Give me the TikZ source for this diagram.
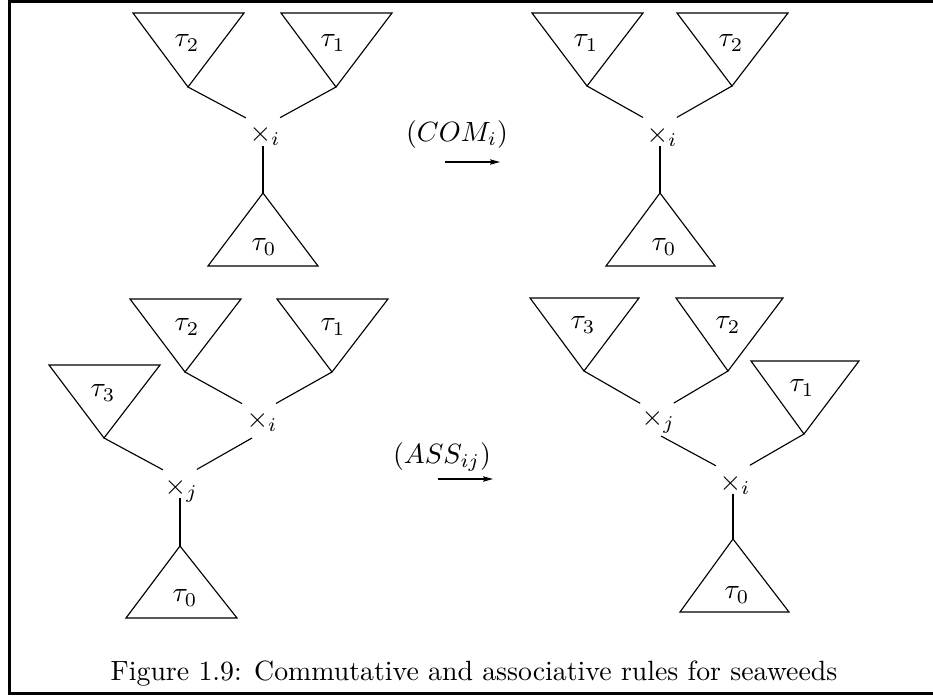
\RequirePackage{fix-cm}
\documentclass[tikz,border=0pt]{standalone}
\usetikzlibrary{arrows.meta}
\begin{document}
\begin{tikzpicture}[x=0.37pt,y=-0.37pt,
  font=\fontsize{10.3pt}{12.4pt}\selectfont,
  br/.style={line width=0.42pt},
  tri/.style={line width=0.42pt, line join=miter},
  junc/.style={circle, minimum size=14pt, inner sep=0pt},
  lab/.style={inner sep=0pt},
  xlab/.style={inner sep=0pt, anchor=base west},
  rulearrow/.style={-{Stealth[length=3.7pt,width=2pt,inset=0.6pt]}, line width=0.42pt},
  framerule/.style={line width=1.1pt}]
\useasboundingbox (0,0) rectangle (933,695);
\draw[framerule] (933,1.5) -- (9.5,1.5) -- (9.5,693.5) -- (933,693.5);

% ---------- top left ----------
\coordinate (a2) at (188,87);
\coordinate (a1) at (336,87);
\coordinate (a0) at (263,193);
\node[junc] (ax) at (263,127) {};
\draw[tri] (a2) -- ++(-55,-74) -- ++(111,0) -- cycle;
\draw[tri] (a1) -- ++(-55,-74) -- ++(111,0) -- cycle;
\draw[tri] (a0) -- ++(-55,73) -- ++(110,0) -- cycle;
\node[lab] (la2) at (187,43) {$\tau_2$};
\node[lab] (la1) at (333,43) {$\tau_1$};
\node[lab] (la0) at (264,247) {$\tau_0$};
\node[xlab] (lax) at (249,141) {$\times_i$};
\draw[br] (a2) -- (ax);
\draw[br] (a1) -- (ax);
\draw[br] (ax) -- (a0);

% ---------- arrow COM ----------
\node[lab, anchor=base] (com) at (457,141) {$(COM_i)$};
\coordinate (comS) at (445,162);
\coordinate (comE) at (500,162);
\draw[rulearrow] (comS) -- (comE);

% ---------- top right ----------
\coordinate (b1) at (587,86);
\coordinate (b2) at (732,86);
\coordinate (b0) at (660,193);
\node[junc] (bx) at (660,127) {};
\draw[tri] (b1) -- ++(-55,-73) -- ++(111,0) -- cycle;
\draw[tri] (b2) -- ++(-55,-73) -- ++(111,0) -- cycle;
\draw[tri] (b0) -- ++(-54,73) -- ++(109,0) -- cycle;
\node[lab] (lb1) at (586,43) {$\tau_1$};
\node[lab] (lb2) at (731,43) {$\tau_2$};
\node[lab] (lb0) at (664,247) {$\tau_0$};
\node[xlab] (lbx) at (646,142) {$\times_i$};
\draw[br] (b1) -- (bx);
\draw[br] (b2) -- (bx);
\draw[br] (bx) -- (b0);

% ---------- bottom left ----------
\coordinate (c2) at (185,372);
\coordinate (c1) at (332,372);
\coordinate (c3) at (104,438);
\coordinate (c0) at (180,546);
\coordinate (ce) at (252,438);
\node[junc] (cxi) at (259,413) {};
\node[junc] (cxj) at (180,479) {};
\draw[tri] (c2) -- ++(-55,-73) -- ++(111,0) -- cycle;
\draw[tri] (c1) -- ++(-55,-73) -- ++(111,0) -- cycle;
\draw[tri] (c3) -- ++(-55,-73) -- ++(111,0) -- cycle;
\draw[tri] (c0) -- ++(-54,72) -- ++(111,0) -- cycle;
\node[lab] (lc2) at (187,327) {$\tau_2$};
\node[lab] (lc1) at (333,327) {$\tau_1$};
\node[lab] (lc3) at (103,393) {$\tau_3$};
\node[lab] (lc0) at (185,598) {$\tau_0$};
\node[xlab] (lcxi) at (246,427) {$\times_i$};
\node[xlab] (lcxj) at (164,494) {$\times_j$};
\draw[br] (c2) -- (cxi);
\draw[br] (c1) -- (cxi);
\draw[br] (c3) -- (cxj);
\draw[br] (cxj) -- (ce);
\draw[br] (cxj) -- (c0);

% ---------- arrow ASS ----------
\node[lab, anchor=base] (ass) at (442,463) {$(ASS_{ij})$};
\coordinate (assS) at (438,479);
\coordinate (assE) at (493,479);
\draw[rulearrow] (assS) -- (assE);

% ---------- bottom right ----------
\coordinate (d3) at (584,371);
\coordinate (d2) at (728,371);
\coordinate (d1) at (804,434);
\coordinate (d0) at (733,539);
\coordinate (de) at (661,436);
\node[junc] (dxj) at (657,413) {};
\node[junc] (dxi) at (733,475) {};
\draw[tri] (d3) -- ++(-54,-73) -- ++(109,0) -- cycle;
\draw[tri] (d2) -- ++(-52,-73) -- ++(107,0) -- cycle;
\draw[tri] (d1) -- ++(-53,-73) -- ++(108,0) -- cycle;
\draw[tri] (d0) -- ++(-53,73) -- ++(109,0) -- cycle;
\node[lab] (ld3) at (583,325) {$\tau_3$};
\node[lab] (ld2) at (728,325) {$\tau_2$};
\node[lab] (ld1) at (802,388) {$\tau_1$};
\node[lab] (ld0) at (737,595) {$\tau_0$};
\node[xlab] (ldxj) at (641,425) {$\times_j$};
\node[xlab] (ldxi) at (719,490) {$\times_i$};
\draw[br] (d3) -- (dxj);
\draw[br] (d2) -- (dxj);
\draw[br] (d1) -- (dxi);
\draw[br] (dxi) -- (de);
\draw[br] (dxi) -- (d0);

% ---------- caption ----------
\node[lab, anchor=base] (cap) at (474,680) {Figure 1.9: Commutative and associative rules for seaweeds};
\end{tikzpicture}
\end{document}
